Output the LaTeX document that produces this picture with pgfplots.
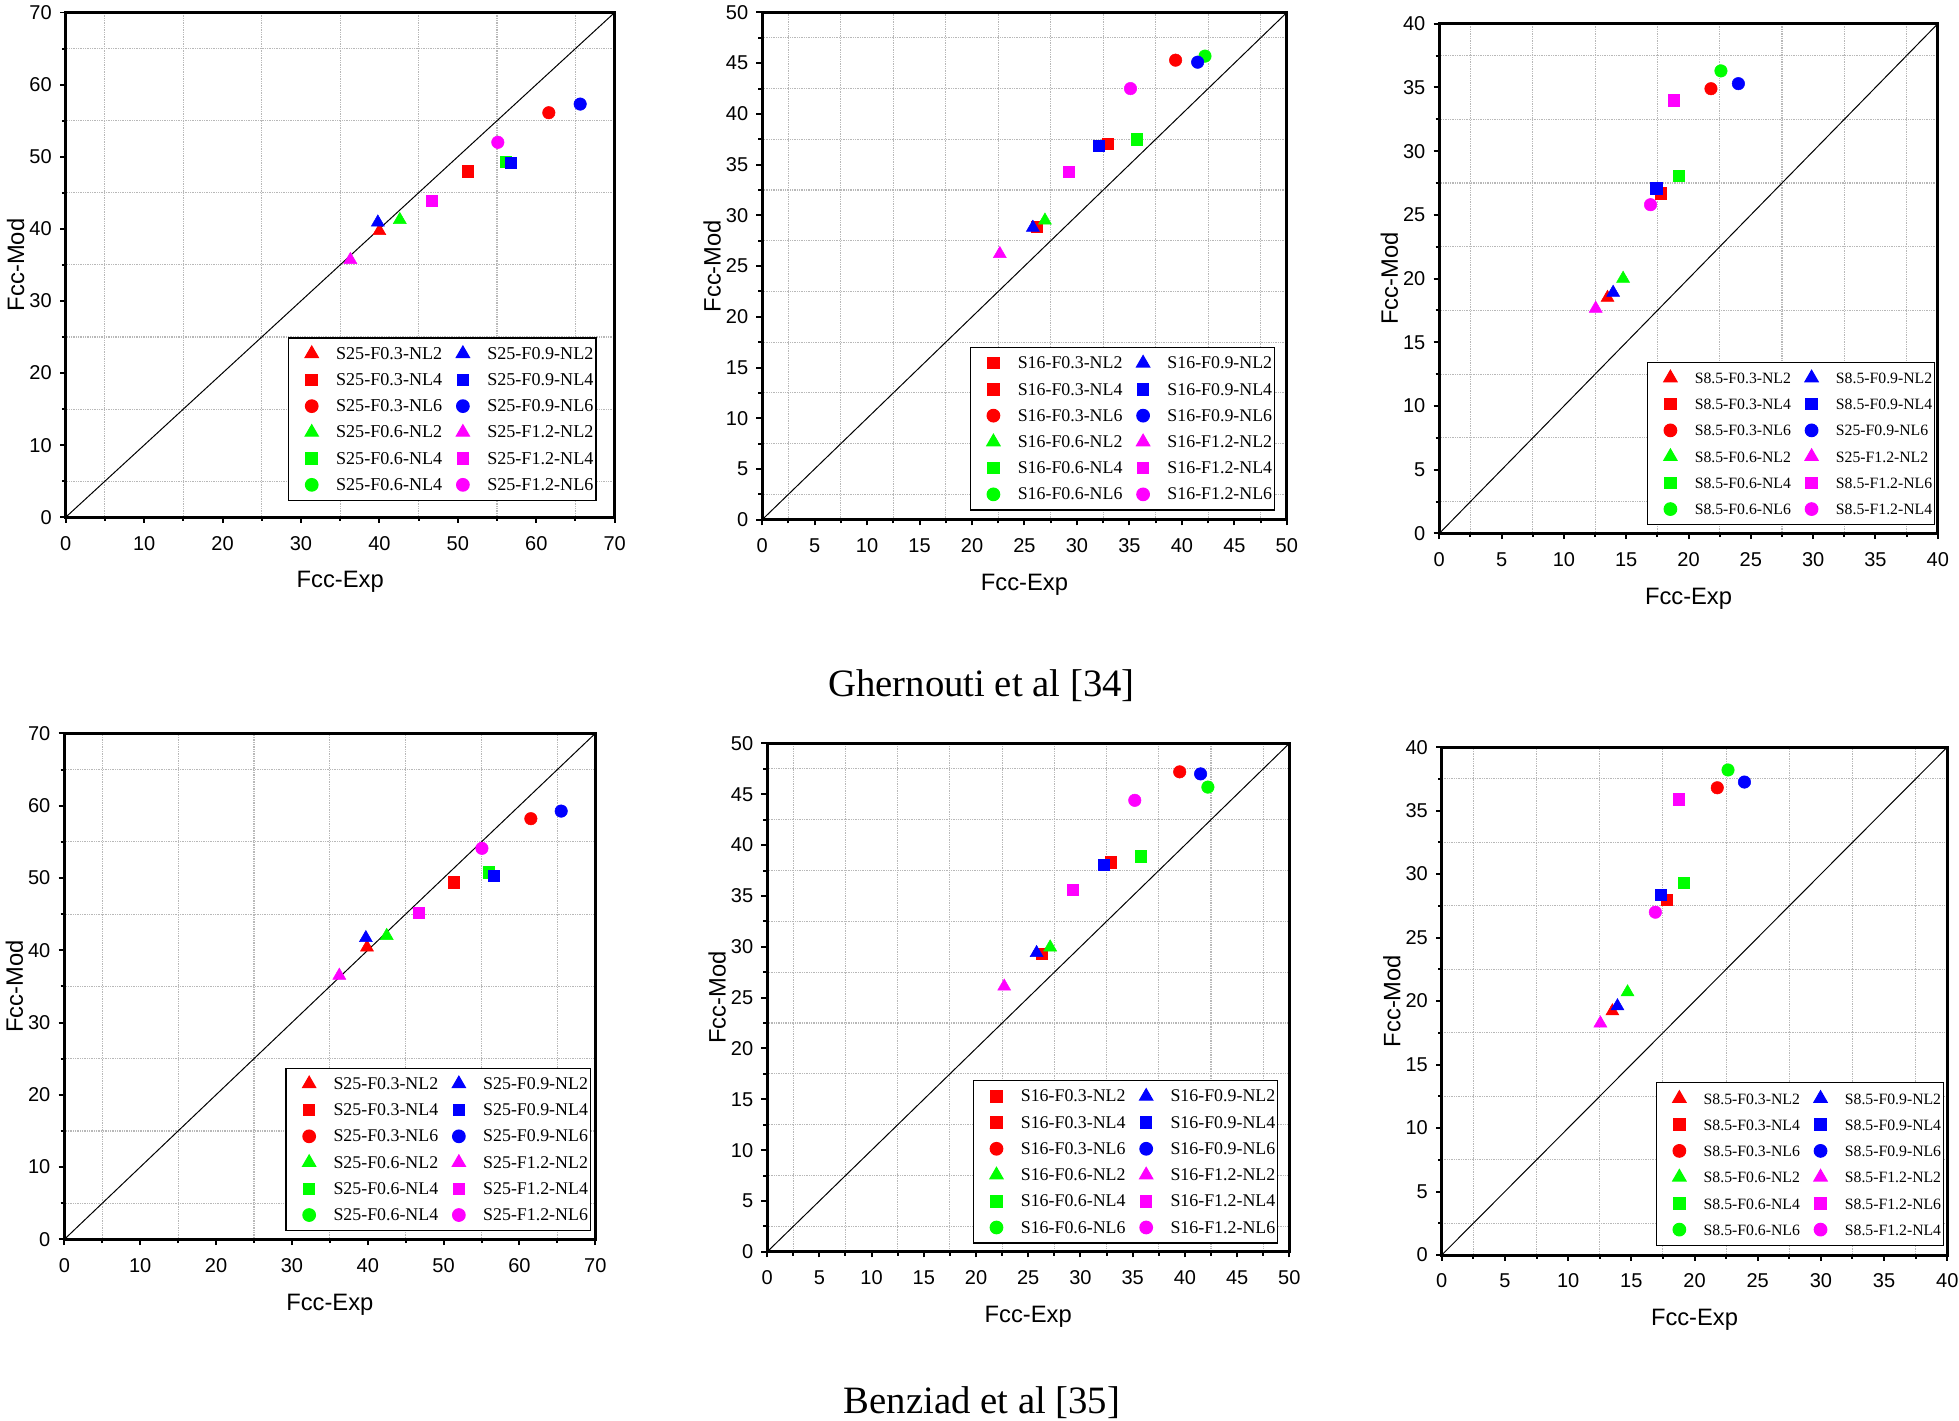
\documentclass[border=0pt]{standalone}
\usepackage{pgfplots}
\pgfplotsset{compat=1.18}
\usepackage{fontspec}
\setmainfont{Liberation Sans}
\newfontfamily\tnr{Liberation Serif}
\definecolor{cR}{RGB}{255,0,0}
\definecolor{cG}{RGB}{0,255,0}
\definecolor{cB}{RGB}{0,0,255}
\definecolor{cM}{RGB}{255,0,255}
\tikzset{
  rT/.style={color=cR, mark=triangle*, mark size=6pt},
  rS/.style={color=cR, mark=square*, mark size=4.5pt},
  rC/.style={color=cR, mark=*, mark size=5pt},
  gT/.style={color=cG, mark=triangle*, mark size=6pt},
  gS/.style={color=cG, mark=square*, mark size=4.5pt},
  gC/.style={color=cG, mark=*, mark size=5pt},
  bT/.style={color=cB, mark=triangle*, mark size=6pt},
  bS/.style={color=cB, mark=square*, mark size=4.5pt},
  bC/.style={color=cB, mark=*, mark size=5pt},
  mT/.style={color=cM, mark=triangle*, mark size=6pt},
  mS/.style={color=cM, mark=square*, mark size=4.5pt},
  mC/.style={color=cM, mark=*, mark size=5pt},
}
\pgfplotsset{
  panel/.style={
    scale only axis, anchor=south west,
    xmin=0, ymin=0,
    tick align=outside, tick pos=left,
    minor x tick num=1, minor y tick num=1,
    grid=minor,
    minor grid style={densely dotted, black!28, line width=0.9pt},
    axis line style={line width=2.4pt},
    major tick style={line width=1.6pt, black},
    minor tick style={line width=1.6pt, black},
    major tick length=4.5pt, minor tick length=3pt,
    tick label style={font=\fontsize{16}{18}\selectfont},
    /pgf/number format/assume math mode=true,
    xticklabel style={inner sep=0pt, yshift=-10.5pt},
    yticklabel style={inner sep=0pt, xshift=-6.5pt},
    xlabel={Fcc-Exp}, ylabel={Fcc-Mod},
    every axis x label/.style={at={([yshift=-52pt]axis description cs:0.5,0)}, anchor=center, font=\fontsize{19}{21}\selectfont},
    every axis y label/.style={at={([xshift=-40pt]axis description cs:0,0.5)}, anchor=center, rotate=90, font=\fontsize{19}{21}\selectfont},
    legend cell align=left,
    legend columns=2,
    legend style={draw=black, line width=1pt, fill=white, inner xsep=2pt, inner ysep=2pt,
      column sep=0pt, row sep=0pt, anchor=south east,
      cells={anchor=west},
      nodes={inner sep=0pt, text height=15pt, text depth=6pt}},
    legend image code/.code={\draw[##1] plot coordinates {(0pt,0pt)}; \path (-16pt,0pt) (19pt,0pt);},
  },
  diag/.style={forget plot, black, line width=0.8pt},
}
\begin{document}
\begin{tikzpicture}
\useasboundingbox (0pt,0pt) rectangle (1568pt,-1137pt);
% ---------------- Panel 1 ----------------
\begin{axis}[panel, at={(52.6pt,-414pt)}, width=439.4pt, height=404pt,
  xmax=70, ymax=70, xtick={0,10,...,70}, ytick={0,10,...,70},
  legend style={at={(0.967,0.032)}, font=\tnr\fontsize{14.5}{16}\selectfont}]
\addplot[diag] coordinates {(0,0) (70,70)};
\addplot[forget plot, rT] coordinates {(40.0,39.7)};
\addplot[forget plot, rS] coordinates {(51.3,48.0)};
\addplot[forget plot, rC] coordinates {(61.6,56.1)};
\addplot[forget plot, gT] coordinates {(42.6,41.25)};
\addplot[forget plot, gS] coordinates {(56.1,49.3)};
\addplot[forget plot, bT] coordinates {(39.8,40.9)};
\addplot[forget plot, bS] coordinates {(56.7,49.15)};
\addplot[forget plot, bC] coordinates {(65.6,57.3)};
\addplot[forget plot, mT] coordinates {(36.3,35.7)};
\addplot[forget plot, mS] coordinates {(46.7,43.9)};
\addplot[forget plot, mC] coordinates {(55.1,52.0)};
\addlegendimage{rT}\addlegendentry{S25-F0.3-NL2}
\addlegendimage{bT}\addlegendentry{S25-F0.9-NL2}
\addlegendimage{rS}\addlegendentry{S25-F0.3-NL4}
\addlegendimage{bS}\addlegendentry{S25-F0.9-NL4}
\addlegendimage{rC}\addlegendentry{S25-F0.3-NL6}
\addlegendimage{bC}\addlegendentry{S25-F0.9-NL6}
\addlegendimage{gT}\addlegendentry{S25-F0.6-NL2}
\addlegendimage{mT}\addlegendentry{S25-F1.2-NL2}
\addlegendimage{gS}\addlegendentry{S25-F0.6-NL4}
\addlegendimage{mS}\addlegendentry{S25-F1.2-NL4}
\addlegendimage{gC}\addlegendentry{S25-F0.6-NL4}
\addlegendimage{mC}\addlegendentry{S25-F1.2-NL6}
\end{axis}
% ---------------- Panel 2 ----------------
\begin{axis}[panel, at={(610pt,-416pt)}, width=420pt, height=406pt,
  xmax=50, ymax=50, xtick={0,5,...,50}, ytick={0,5,...,50},
  legend style={at={(0.978,0.018)}, font=\tnr\fontsize{14.3}{16}\selectfont}]
\addplot[diag] coordinates {(0,0) (50,50)};
\addplot[forget plot, rS] coordinates {(26.2,28.85)};
\addplot[forget plot, rS] coordinates {(32.9,37.05)};
\addplot[forget plot, rC] coordinates {(39.4,45.3)};
\addplot[forget plot, gT] coordinates {(26.95,29.5)};
\addplot[forget plot, gS] coordinates {(35.7,37.5)};
\addplot[forget plot, gC] coordinates {(42.2,45.7)};
\addplot[forget plot, bT] coordinates {(25.8,28.8)};
\addplot[forget plot, bS] coordinates {(32.1,36.9)};
\addplot[forget plot, bC] coordinates {(41.5,45.1)};
\addplot[forget plot, mT] coordinates {(22.65,26.2)};
\addplot[forget plot, mS] coordinates {(29.2,34.3)};
\addplot[forget plot, mC] coordinates {(35.1,42.5)};
\addlegendimage{rS}\addlegendentry{S16-F0.3-NL2}
\addlegendimage{bT}\addlegendentry{S16-F0.9-NL2}
\addlegendimage{rS}\addlegendentry{S16-F0.3-NL4}
\addlegendimage{bS}\addlegendentry{S16-F0.9-NL4}
\addlegendimage{rC}\addlegendentry{S16-F0.3-NL6}
\addlegendimage{bC}\addlegendentry{S16-F0.9-NL6}
\addlegendimage{gT}\addlegendentry{S16-F0.6-NL2}
\addlegendimage{mT}\addlegendentry{S16-F1.2-NL2}
\addlegendimage{gS}\addlegendentry{S16-F0.6-NL4}
\addlegendimage{mS}\addlegendentry{S16-F1.2-NL4}
\addlegendimage{gC}\addlegendentry{S16-F0.6-NL6}
\addlegendimage{mC}\addlegendentry{S16-F1.2-NL6}
\end{axis}
% ---------------- Panel 3 ----------------
\begin{axis}[panel, at={(1152pt,-427pt)}, width=399pt, height=408pt,
  xmax=40, ymax=40, xtick={0,5,...,40}, ytick={0,5,...,40},
  legend style={at={(0.995,0.016)}, font=\tnr\fontsize{12.6}{14}\selectfont}]
\addplot[diag] coordinates {(0,0) (40,40)};
\addplot[forget plot, rT] coordinates {(13.5,18.5)};
\addplot[forget plot, rS] coordinates {(17.8,26.7)};
\addplot[forget plot, rC] coordinates {(21.8,34.9)};
\addplot[forget plot, gT] coordinates {(14.75,20.0)};
\addplot[forget plot, gS] coordinates {(19.2,28.1)};
\addplot[forget plot, gC] coordinates {(22.6,36.3)};
\addplot[forget plot, bT] coordinates {(13.95,18.9)};
\addplot[forget plot, bS] coordinates {(17.4,27.1)};
\addplot[forget plot, bC] coordinates {(24.0,35.3)};
\addplot[forget plot, mT] coordinates {(12.55,17.65)};
\addplot[forget plot, mS] coordinates {(18.8,34.0)};
\addplot[forget plot, mC] coordinates {(16.95,25.8)};
\addlegendimage{rT}\addlegendentry{S8.5-F0.3-NL2}
\addlegendimage{bT}\addlegendentry{S8.5-F0.9-NL2}
\addlegendimage{rS}\addlegendentry{S8.5-F0.3-NL4}
\addlegendimage{bS}\addlegendentry{S8.5-F0.9-NL4}
\addlegendimage{rC}\addlegendentry{S8.5-F0.3-NL6}
\addlegendimage{bC}\addlegendentry{S25-F0.9-NL6}
\addlegendimage{gT}\addlegendentry{S8.5-F0.6-NL2}
\addlegendimage{mT}\addlegendentry{S25-F1.2-NL2}
\addlegendimage{gS}\addlegendentry{S8.5-F0.6-NL4}
\addlegendimage{mS}\addlegendentry{S8.5-F1.2-NL6}
\addlegendimage{gC}\addlegendentry{S8.5-F0.6-NL6}
\addlegendimage{mC}\addlegendentry{S8.5-F1.2-NL4}
\end{axis}
% ---------------- Panel 4 ----------------
\begin{axis}[panel, at={(51.5pt,-992pt)}, width=425pt, height=405pt,
  xmax=70, ymax=70, xtick={0,10,...,70}, ytick={0,10,...,70},
  legend style={at={(0.992,0.016)}, font=\tnr\fontsize{14.3}{16}\selectfont}]
\addplot[diag] coordinates {(0,0) (70,70)};
\addplot[forget plot, rT] coordinates {(39.9,40.4)};
\addplot[forget plot, rS] coordinates {(51.3,49.4)};
\addplot[forget plot, rC] coordinates {(61.5,58.2)};
\addplot[forget plot, gT] coordinates {(42.5,42.0)};
\addplot[forget plot, gS] coordinates {(56.0,50.8)};
\addplot[forget plot, bT] coordinates {(39.75,41.7)};
\addplot[forget plot, bS] coordinates {(56.6,50.35)};
\addplot[forget plot, bC] coordinates {(65.5,59.25)};
\addplot[forget plot, mT] coordinates {(36.25,36.5)};
\addplot[forget plot, mS] coordinates {(46.75,45.2)};
\addplot[forget plot, mC] coordinates {(55.05,54.1)};
\addlegendimage{rT}\addlegendentry{S25-F0.3-NL2}
\addlegendimage{bT}\addlegendentry{S25-F0.9-NL2}
\addlegendimage{rS}\addlegendentry{S25-F0.3-NL4}
\addlegendimage{bS}\addlegendentry{S25-F0.9-NL4}
\addlegendimage{rC}\addlegendentry{S25-F0.3-NL6}
\addlegendimage{bC}\addlegendentry{S25-F0.9-NL6}
\addlegendimage{gT}\addlegendentry{S25-F0.6-NL2}
\addlegendimage{mT}\addlegendentry{S25-F1.2-NL2}
\addlegendimage{gS}\addlegendentry{S25-F0.6-NL4}
\addlegendimage{mS}\addlegendentry{S25-F1.2-NL4}
\addlegendimage{gC}\addlegendentry{S25-F0.6-NL4}
\addlegendimage{mC}\addlegendentry{S25-F1.2-NL6}
\end{axis}
% ---------------- Panel 5 ----------------
\begin{axis}[panel, at={(614pt,-1002pt)}, width=418pt, height=407pt,
  xmax=50, ymax=50, xtick={0,5,...,50}, ytick={0,5,...,50},
  legend style={at={(0.979,0.016)}, font=\tnr\fontsize{14.3}{16}\selectfont}]
\addplot[diag] coordinates {(0,0) (50,50)};
\addplot[forget plot, rS] coordinates {(26.3,29.3)};
\addplot[forget plot, rS] coordinates {(32.9,38.3)};
\addplot[forget plot, rC] coordinates {(39.5,47.2)};
\addplot[forget plot, gT] coordinates {(27.1,29.95)};
\addplot[forget plot, gS] coordinates {(35.75,38.9)};
\addplot[forget plot, gC] coordinates {(42.2,45.7)};
\addplot[forget plot, bT] coordinates {(25.8,29.4)};
\addplot[forget plot, bS] coordinates {(32.2,38.1)};
\addplot[forget plot, bC] coordinates {(41.5,47.0)};
\addplot[forget plot, mT] coordinates {(22.7,26.1)};
\addplot[forget plot, mS] coordinates {(29.25,35.6)};
\addplot[forget plot, mC] coordinates {(35.2,44.4)};
\addlegendimage{rS}\addlegendentry{S16-F0.3-NL2}
\addlegendimage{bT}\addlegendentry{S16-F0.9-NL2}
\addlegendimage{rS}\addlegendentry{S16-F0.3-NL4}
\addlegendimage{bS}\addlegendentry{S16-F0.9-NL4}
\addlegendimage{rC}\addlegendentry{S16-F0.3-NL6}
\addlegendimage{bC}\addlegendentry{S16-F0.9-NL6}
\addlegendimage{gT}\addlegendentry{S16-F0.6-NL2}
\addlegendimage{mT}\addlegendentry{S16-F1.2-NL2}
\addlegendimage{gS}\addlegendentry{S16-F0.6-NL4}
\addlegendimage{mS}\addlegendentry{S16-F1.2-NL4}
\addlegendimage{gC}\addlegendentry{S16-F0.6-NL6}
\addlegendimage{mC}\addlegendentry{S16-F1.2-NL6}
\end{axis}
% ---------------- Panel 6 ----------------
\begin{axis}[panel, at={(1154pt,-1004.5pt)}, width=404.6pt, height=406.5pt,
  xmax=40, ymax=40, xtick={0,5,...,40}, ytick={0,5,...,40},
  legend style={at={(0.994,0.018)}, font=\tnr\fontsize{12.6}{14}\selectfont}]
\addplot[diag] coordinates {(0,0) (40,40)};
\addplot[forget plot, rT] coordinates {(13.5,19.2)};
\addplot[forget plot, rS] coordinates {(17.8,28.0)};
\addplot[forget plot, rC] coordinates {(21.8,36.8)};
\addplot[forget plot, gT] coordinates {(14.7,20.7)};
\addplot[forget plot, gS] coordinates {(19.15,29.3)};
\addplot[forget plot, gC] coordinates {(22.65,38.2)};
\addplot[forget plot, bT] coordinates {(13.9,19.6)};
\addplot[forget plot, bS] coordinates {(17.35,28.4)};
\addplot[forget plot, bC] coordinates {(23.95,37.25)};
\addplot[forget plot, mT] coordinates {(12.55,18.25)};
\addplot[forget plot, mS] coordinates {(18.75,35.9)};
\addplot[forget plot, mC] coordinates {(16.9,27.0)};
\addlegendimage{rT}\addlegendentry{S8.5-F0.3-NL2}
\addlegendimage{bT}\addlegendentry{S8.5-F0.9-NL2}
\addlegendimage{rS}\addlegendentry{S8.5-F0.3-NL4}
\addlegendimage{bS}\addlegendentry{S8.5-F0.9-NL4}
\addlegendimage{rC}\addlegendentry{S8.5-F0.3-NL6}
\addlegendimage{bC}\addlegendentry{S8.5-F0.9-NL6}
\addlegendimage{gT}\addlegendentry{S8.5-F0.6-NL2}
\addlegendimage{mT}\addlegendentry{S8.5-F1.2-NL2}
\addlegendimage{gS}\addlegendentry{S8.5-F0.6-NL4}
\addlegendimage{mS}\addlegendentry{S8.5-F1.2-NL6}
\addlegendimage{gC}\addlegendentry{S8.5-F0.6-NL6}
\addlegendimage{mC}\addlegendentry{S8.5-F1.2-NL4}
\end{axis}
% ---------------- Captions ----------------
\node[anchor=base, font=\tnr\fontsize{31}{34}\selectfont] at (785.6pt,-557.6pt) {Ghernouti et al [34]};
\node[anchor=base, font=\tnr\fontsize{31}{34}\selectfont] at (786pt,-1131pt) {Benziad et al [35]};
\end{tikzpicture}
\end{document}
